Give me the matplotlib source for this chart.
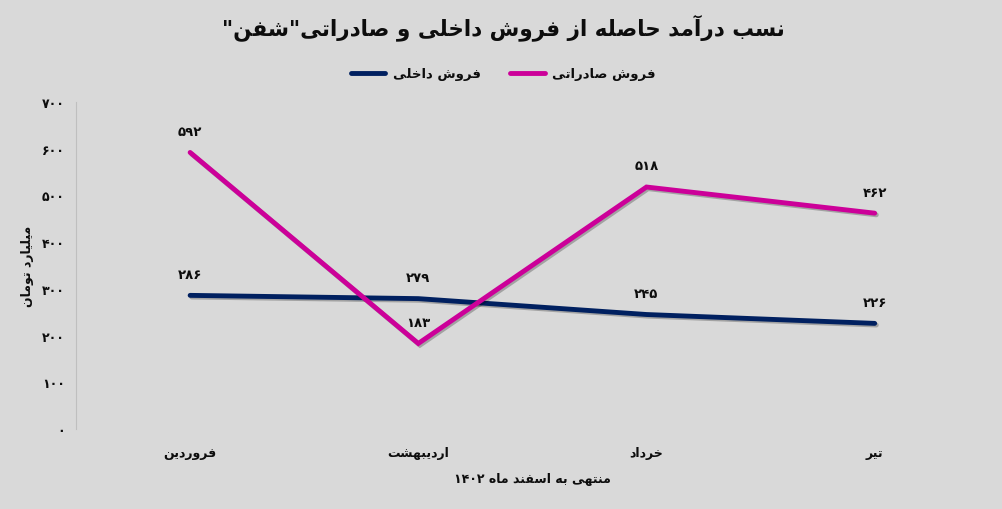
import matplotlib
matplotlib.use("Agg")
import matplotlib.pyplot as plt
from matplotlib.lines import Line2D
import matplotlib.patheffects as pe

# ---------------- data ----------------
categories = ["فروردین", "اردیبهشت", "خرداد", "تیر"]
domestic = [286, 279, 245, 226]
export = [592, 183, 518, 462]
y_ticks = [0, 100, 200, 300, 400, 500, 600, 700]
title = 'نسب درآمد حاصله از فروش داخلی و صادراتی"شفن"'
legend_domestic = "فروش داخلی"
legend_export = "فروش صادراتی"
y_label = "میلیارد تومان"
x_label = "منتهی به اسفند ماه ۱۴۰۲"

# ---------------- Persian shaping helpers ----------------
FORMS = {
    'ب': (0xFE8F, 0xFE90, 0xFE91, 0xFE92),
    'ت': (0xFE95, 0xFE96, 0xFE97, 0xFE98),
    'ح': (0xFEA1, 0xFEA2, 0xFEA3, 0xFEA4),
    'خ': (0xFEA5, 0xFEA6, 0xFEA7, 0xFEA8),
    'س': (0xFEB1, 0xFEB2, 0xFEB3, 0xFEB4),
    'ش': (0xFEB5, 0xFEB6, 0xFEB7, 0xFEB8),
    'ص': (0xFEB9, 0xFEBA, 0xFEBB, 0xFEBC),
    'ف': (0xFED1, 0xFED2, 0xFED3, 0xFED4),
    'ق': (0xFED5, 0xFED6, 0xFED7, 0xFED8),
    'ل': (0xFEDD, 0xFEDE, 0xFEDF, 0xFEE0),
    'م': (0xFEE1, 0xFEE2, 0xFEE3, 0xFEE4),
    'ن': (0xFEE5, 0xFEE6, 0xFEE7, 0xFEE8),
    'ه': (0xFEE9, 0xFEEA, 0xFEEB, 0xFEEC),
    'ی': (0xFBFC, 0xFBFD, 0xFBFE, 0xFBFF),
    'ا': (0xFE8D, 0xFE8E),
    'آ': (0xFE81, 0xFE82),
    'د': (0xFEA9, 0xFEAA),
    'ر': (0xFEAD, 0xFEAE),
    'ز': (0xFEAF, 0xFEB0),
    'و': (0xFEED, 0xFEEE),
}
DIGITS = set("0123456789۰۱۲۳۴۵۶۷۸۹")


def shape(s):
    out = []
    n = len(s)
    for i, c in enumerate(s):
        if c not in FORMS:
            out.append(c)
            continue
        f = FORMS[c]
        prev = s[i - 1] if i > 0 else None
        nxt = s[i + 1] if i < n - 1 else None
        jp = prev in FORMS and len(FORMS[prev]) == 4
        jn = len(f) == 4 and nxt in FORMS
        if jp and jn:
            out.append(chr(f[3]))
        elif jp:
            out.append(chr(f[1]))
        elif jn:
            out.append(chr(f[2]))
        else:
            out.append(chr(f[0]))
    return "".join(out)


def rtl(s):
    s = shape(s)
    runs = []
    for c in s:
        isd = c in DIGITS
        if runs and runs[-1][0] == isd:
            runs[-1][1].append(c)
        else:
            runs.append([isd, [c]])
    res = []
    for isd, chars in reversed(runs):
        res.append("".join(chars) if isd else "".join(reversed(chars)))
    return "".join(res)


def fa_num(v):
    return str(v).translate(str.maketrans("0123456789", "۰۱۲۳۴۵۶۷۸۹"))


# ---------------- figure ----------------
plt.rcParams['font.family'] = ['DejaVu Sans']
plt.rcParams['font.weight'] = 'bold'
BG = "#D9D9D9"
NAVY = "#002060"
MAGENTA = "#CC0099"
TXT = "#0d0d0d"

fig = plt.figure(figsize=(10.03, 5.10), dpi=100, facecolor=BG)
ax = fig.add_axes([0.0758, 0.157, 0.910, 0.641])
ax.set_facecolor(BG)

x = list(range(len(categories)))
shadow = [pe.SimpleLineShadow(offset=(1.2, -1.2), shadow_color='black', alpha=0.25), pe.Normal()]
ax.plot(x, domestic, color=NAVY, lw=3.5, solid_capstyle='round', solid_joinstyle='miter',
        path_effects=shadow, zorder=3)
ax.plot(x, export, color=MAGENTA, lw=3.5, solid_capstyle='round', solid_joinstyle='miter',
        path_effects=shadow, zorder=4)

for xi, v in zip(x, domestic):
    ax.annotate(fa_num(v), (xi, v), xytext=(0, 10.5), textcoords='offset points',
                ha='center', va='bottom', fontsize=9.5, fontweight='bold', color=TXT)
for xi, v in zip(x, export):
    ax.annotate(fa_num(v), (xi, v), xytext=(0, 10.5), textcoords='offset points',
                ha='center', va='bottom', fontsize=9.5, fontweight='bold', color=TXT)

ax.set_xlim(-0.5, len(categories) - 0.5)
ax.set_ylim(0, 700)
ax.set_yticks(y_ticks)
ax.set_yticklabels([fa_num(v) for v in y_ticks], fontsize=9, fontweight='bold')
ax.set_xticks(x)
ax.set_xticklabels([rtl(c) for c in categories], fontsize=9, fontweight='bold')
ax.tick_params(axis='both', length=0, colors=TXT)
ax.tick_params(axis='y', pad=8)
ax.tick_params(axis='x', pad=12)

for s in ['top', 'right', 'bottom']:
    ax.spines[s].set_visible(False)
ax.spines['left'].set_color('#BFBFBF')
ax.spines['left'].set_linewidth(0.8)

ax.set_ylabel(rtl(y_label), fontsize=9, fontweight='bold', labelpad=6, color=TXT)
ax.set_xlabel(rtl(x_label), fontsize=9, fontweight='bold', labelpad=10, color=TXT)

fig.text(0.502, 0.945, rtl(title), ha='center', va='center', fontsize=15.5, fontweight='bold',
         color=TXT)

handles = [Line2D([], [], color=NAVY, lw=3.5, solid_capstyle='round'),
           Line2D([], [], color=MAGENTA, lw=3.5, solid_capstyle='round')]
leg = fig.legend(handles, [rtl(legend_domestic), rtl(legend_export)], ncol=2,
                 loc='center', bbox_to_anchor=(0.502, 0.853), frameon=False,
                 prop={'size': 9.5, 'weight': 'bold'}, handlelength=2.6, columnspacing=2.2,
                 handletextpad=0.6, labelcolor=TXT)

fig.savefig("out.png", dpi=100, facecolor=BG)
